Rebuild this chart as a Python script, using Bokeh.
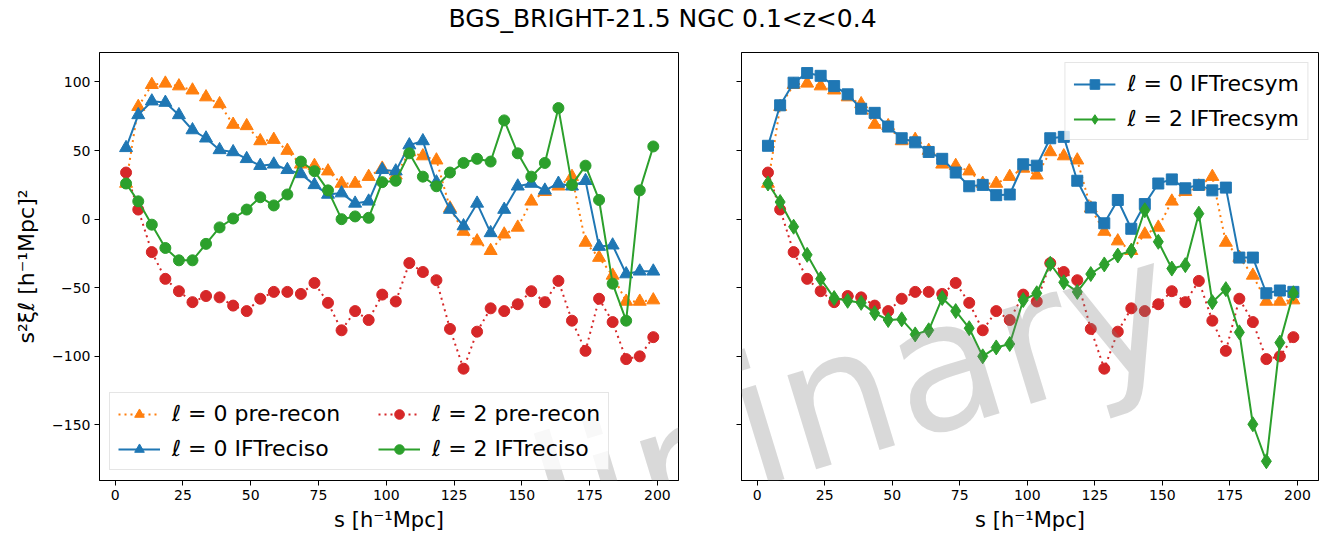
import math
from bokeh.plotting import figure
from bokeh.models import Range1d, Label, Legend, LegendItem, FixedTicker
from bokeh.layouts import column, row
from bokeh.embed import file_html
from bokeh.resources import INLINE

# ---------------- data ----------------
s = [4.0, 8.5, 13.5, 18.5, 23.5, 28.5, 33.5, 38.5, 43.5, 48.5,
     53.5, 58.5, 63.5, 68.5, 73.5, 78.5, 83.5, 88.5, 93.5, 98.5,
     103.5, 108.5, 113.5, 118.5, 123.5, 128.5, 133.5, 138.5, 143.5, 148.5,
     153.5, 158.5, 163.5, 168.5, 173.5, 178.5, 183.5, 188.5, 193.5, 198.5]

xi0_pre = [26, 82, 98, 99, 97, 94, 89, 84, 69, 68,
           57, 58, 50, 40, 39, 35, 26, 26, 31, 37,
           32, 49, 46, 43, 8, -9, -16, -23, -11, -6,
           13, 20, 24, 31, -17, -28, -41, -60, -60, -59]

xi2_pre = [34, 7, -24, -43.5, -52.5, -60.5, -56, -57, -63, -67,
           -58, -53, -53, -54.5, -46.5, -61, -81, -67, -73.5, -55,
           -60, -32, -38.5, -44.5, -80, -109, -82, -65, -67, -62,
           -52.5, -60.5, -45, -74, -96, -58, -75, -102, -100, -86]

xi0_iso = [52, 76, 86, 85, 76, 65, 59, 50.5, 49, 44,
           39, 40, 36, 33, 25, 18, 19, 11.5, 13, 36,
           35, 54, 57, 27, 7, -5, 11.5, -10, 7, 24,
           26, 21, 26, 24, 28, -20, -19, -40, -38, -38]

xi2_iso = [26, 13, -4, -21, -30, -30, -18, -6, 0.5, 7,
           16, 10, 18, 42, 35, 21, 0, 2, 1, 27,
           28, 48, 31, 24, 34, 41, 44, 42, 72, 48,
           31, 41, 81, 25, 39, 14, -47, -74, 21, 53]

xi0_sym = [53.5, 83, 99.5, 106.5, 104.5, 97, 91, 80.5, 77.5, 67.5,
           59, 56, 49, 44, 34, 24, 25, 17.5, 18, 40,
           39, 59, 60, 28, 8.5, -3, 14, -7, 11, 26,
           29, 22.5, 25, 21, 23, -28, -28, -54, -52, -53]

xi2_sym = [26, 12.5, -5.5, -26, -43.5, -57.5, -59.5, -61, -68.5, -73.5,
           -73, -84, -81, -57.5, -67, -79.5, -100, -93.5, -91, -59,
           -54, -32.5, -46, -53, -40, -33, -26.5, -23, 6.5, -16.5,
           -36, -33.5, 4, -60.5, -51, -82.5, -149.5, -176.5, -90, -54]

xticks = [0, 25, 50, 75, 100, 125, 150, 175, 200]
yticks = [-150, -100, -50, 0, 50, 100]

TITLE = "BGS_BRIGHT-21.5 NGC 0.1<z<0.4"
XLABEL = "s [h\u207b\u00b9Mpc]"
YLABEL = "s\u00b2\u03be\u2113 [h\u207b\u00b9Mpc]\u00b2"
WATERMARK = "Preliminary"

C_BLUE, C_ORANGE, C_GREEN, C_RED = "#1f77b4", "#ff7f0e", "#2ca02c", "#d62728"
FONT = "DejaVu Sans"

X_RANGE = (-5.8, 207.8)
Y_RANGE = (-190.5, 121.5)

PAD = "\u00a0\u00a0\u00a0\u00a0"


def make_fig(width, mb_left, mb_right, show_ylab):
    p = figure(width=width, height=500,
               x_range=Range1d(*X_RANGE), y_range=Range1d(*Y_RANGE),
               output_backend="svg", toolbar_location=None,
               min_border_left=mb_left, min_border_right=mb_right,
               min_border_top=12, min_border_bottom=60)
    p.xgrid.visible = False
    p.ygrid.visible = False
    p.outline_line_color = "#000000"
    p.outline_line_width = 1
    p.background_fill_color = "white"
    p.border_fill_color = "white"
    for ax in (p.xaxis[0], p.yaxis[0]):
        ax.major_tick_in = 0
        ax.major_tick_out = 5
        ax.minor_tick_line_color = None
        ax.axis_line_color = "#000000"
        ax.major_tick_line_color = "#000000"
        ax.major_label_text_font = FONT
        ax.major_label_text_font_size = "14px"
        ax.major_label_text_color = "#000000"
        ax.major_label_standoff = 4
        ax.axis_label_text_font = FONT
        ax.axis_label_text_font_size = "21px"
        ax.axis_label_text_font_style = "normal"
        ax.axis_label_text_color = "#000000"
    p.xaxis.ticker = FixedTicker(ticks=xticks)
    p.yaxis.ticker = FixedTicker(ticks=yticks)
    p.xaxis.axis_label = XLABEL
    p.xaxis.axis_label_standoff = 5
    if show_ylab:
        p.yaxis.major_label_overrides = {t: (("\u2212" + str(-t)) if t < 0 else str(t)) for t in yticks}
        p.yaxis.axis_label = YLABEL
        p.yaxis.axis_label_standoff = 10
        p.yaxis.axis_label_text_font_size = "22px"
    else:
        p.yaxis.major_label_overrides = {t: "" for t in yticks}
    return p


def series(p, y, color, marker, size, dash):
    r1 = p.line(s, y, line_color=color, line_width=2, line_dash=dash)
    r2 = p.scatter(s, y, marker=marker, size=size, fill_color=color, line_color=color)
    return [r1, r2]


def style_legend(leg):
    leg.label_text_font = FONT
    leg.label_text_font_size = "22px"
    leg.label_text_color = "#000000"
    leg.glyph_width = 42
    leg.glyph_height = 24
    leg.label_standoff = 12
    leg.spacing = 10
    leg.padding = 8
    leg.margin = 10
    leg.border_line_color = "#cccccc"
    leg.border_line_width = 1
    leg.background_fill_alpha = 0.8


def watermark(p, dx):
    # page coords of the watermark centre; p spans page y 40..540
    cx, cy = 652, 504
    lab = Label(x=cx - dx, y=540 - cy, x_units="screen", y_units="screen",
                text=WATERMARK, angle=math.radians(17),
                text_font=FONT, text_font_size="180px",
                text_color="#808080", text_alpha=0.3,
                text_align="center", text_baseline="middle")
    p.add_layout(lab)


# ---------------- left panel ----------------
p1 = make_fig(710, 99, 32, True)
r_o = series(p1, xi0_pre, C_ORANGE, "triangle", 13, "2 4")
r_r = series(p1, xi2_pre, C_RED, "circle", 11, "2 4")
r_b = series(p1, xi0_iso, C_BLUE, "triangle", 13, "solid")
r_g = series(p1, xi2_iso, C_GREEN, "circle", 11, "solid")
leg1 = Legend(items=[
    LegendItem(label="\u2113 = 0 pre-recon" + PAD, renderers=r_o),
    LegendItem(label="\u2113 = 0 IFTreciso" + PAD, renderers=r_b),
    LegendItem(label="\u2113 = 2 pre-recon", renderers=r_r),
    LegendItem(label="\u2113 = 2 IFTreciso", renderers=r_g),
], location="bottom_left", ncols=2)
style_legend(leg1)
p1.add_layout(leg1)
watermark(p1, 0)

# ---------------- right panel ----------------
p2 = make_fig(614, 31, 6, False)
series(p2, xi0_pre, C_ORANGE, "triangle", 13, "2 4")
series(p2, xi2_pre, C_RED, "circle", 11, "2 4")
q_b = series(p2, xi0_sym, C_BLUE, "square", 11, "solid")
q_g = series(p2, xi2_sym, C_GREEN, "diamond", 15, "solid")
leg2 = Legend(items=[
    LegendItem(label="\u2113 = 0 IFTrecsym", renderers=q_b),
    LegendItem(label="\u2113 = 2 IFTrecsym", renderers=q_g),
], location="top_right")
style_legend(leg2)
p2.add_layout(leg2)
watermark(p2, 710)

# ---------------- title strip ----------------
pt = figure(width=1324, height=40, x_range=Range1d(0, 1), y_range=Range1d(0, 1),
            output_backend="svg", toolbar_location=None, min_border=0)
pt.xaxis.visible = False
pt.yaxis.visible = False
pt.xgrid.visible = False
pt.ygrid.visible = False
pt.outline_line_color = None
pt.add_layout(Label(x=662, y=22, x_units="screen", y_units="screen", text=TITLE,
                    text_font=FONT, text_font_size="25px", text_color="#000000",
                    text_align="center", text_baseline="middle"))

layout = column(pt, row(p1, p2, spacing=0), spacing=0)
open("out.html", "w").write(file_html(layout, INLINE))
